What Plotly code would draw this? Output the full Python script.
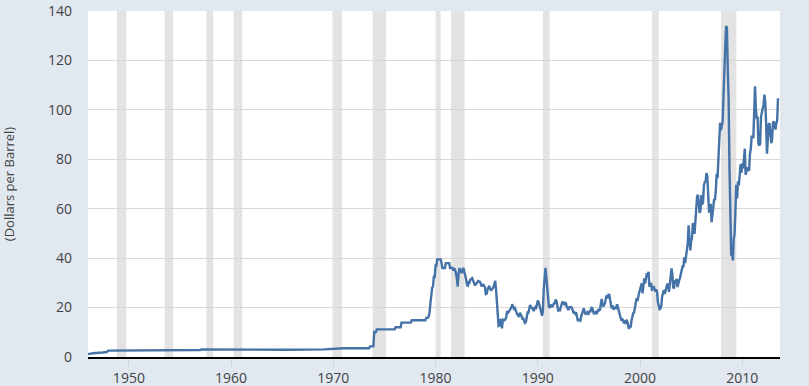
import pandas as pd
import plotly.graph_objects as go

# Early (stepwise) period: dates and prices
early_dates = ["1946-01", "1946-07", "1947-06", "1947-11", "1948-01", "1953-05", "1953-06",
               "1957-01", "1957-02", "1959-02", "1965-06", "1969-02", "1970-01", "1971-01",
               "1973-07", "1973-08", "1973-12", "1974-01", "1974-03", "1974-04", "1976-01",
               "1976-02", "1976-08", "1976-09", "1977-08", "1977-09", "1978-12"]
early_values = [1.17, 1.52, 1.82, 2.02, 2.57, 2.57, 2.82,
                2.82, 3.07, 2.97, 2.92, 3.07, 3.35, 3.56,
                3.56, 4.31, 4.31, 10.11, 10.11, 11.16, 11.16,
                12.03, 12.03, 13.90, 13.90, 14.85, 14.85]

# Monthly prices from 1979-01 to 2013-07
monthly_start = "1979-01"
monthly_values = [
    14.85, 15.85, 15.85, 15.85, 16.5, 18.1, 21.75, 25.25, 28.0, 28.5, 32.5, 32.5,  # 1979
    37.0, 37.0, 39.5, 39.5, 39.5, 39.5, 39.5, 38.0, 36.0, 36.0, 36.0, 36.0,        # 1980
    38.0, 38.0, 38.0, 38.0, 38.0, 36.0, 36.0, 36.0, 36.0, 35.0, 36.0, 35.0,        # 1981
    33.85, 31.56, 28.48, 33.45, 35.93, 35.07, 34.16, 33.95, 35.63, 35.68, 34.15, 31.72,  # 1982
    31.18, 28.95, 28.82, 30.63, 30.28, 31.35, 31.65, 31.86, 30.99, 29.85, 29.23, 29.30,  # 1983
    29.70, 30.10, 30.76, 30.60, 30.46, 29.76, 28.57, 29.30, 29.29, 28.74, 28.13, 25.50,  # 1984
    25.64, 27.30, 28.24, 28.81, 27.62, 27.13, 27.32, 27.81, 28.25, 29.54, 30.81, 27.23,  # 1985
    22.93, 15.46, 12.61, 12.84, 15.38, 13.43, 11.59, 15.10, 14.87, 14.90, 15.22, 16.11,  # 1986
    18.65, 17.75, 18.30, 18.68, 19.44, 20.07, 21.34, 20.31, 19.53, 19.86, 18.85, 17.28,  # 1987
    17.13, 16.80, 16.20, 17.86, 17.42, 16.53, 15.50, 15.52, 14.54, 13.77, 14.14, 16.38,  # 1988
    18.02, 17.94, 19.48, 21.07, 20.12, 20.05, 19.78, 18.58, 19.59, 20.10, 19.86, 21.10,  # 1989
    22.86, 22.11, 20.39, 18.43, 18.20, 16.70, 18.45, 27.31, 33.51, 36.04, 32.33, 27.28,  # 1990
    25.23, 20.48, 19.90, 20.83, 21.23, 20.19, 21.40, 21.69, 21.89, 23.23, 22.46, 19.50,  # 1991
    18.79, 19.01, 18.92, 20.23, 20.98, 22.37, 21.78, 21.34, 21.88, 21.69, 20.34, 19.41,  # 1992
    19.03, 20.09, 20.32, 20.25, 19.95, 19.09, 17.89, 18.01, 17.50, 18.15, 16.61, 14.52,  # 1993
    15.03, 14.78, 14.68, 16.42, 17.89, 19.06, 19.66, 18.38, 17.45, 17.72, 18.07, 17.16,  # 1994
    18.04, 18.57, 18.54, 19.90, 19.74, 18.45, 17.33, 18.02, 18.23, 17.43, 17.99, 19.03,  # 1995
    18.85, 19.09, 21.33, 23.50, 21.17, 20.42, 21.30, 21.90, 23.97, 24.88, 23.71, 25.23,  # 1996
    25.13, 22.18, 20.97, 19.70, 20.82, 19.26, 19.66, 19.95, 19.80, 21.33, 20.19, 18.33,  # 1997
    16.72, 16.06, 15.12, 15.35, 14.91, 13.72, 14.17, 13.47, 15.03, 14.46, 13.00, 11.35,  # 1998
    12.52, 12.01, 14.68, 17.31, 17.72, 17.92, 20.10, 21.28, 23.80, 22.69, 25.00, 26.10,  # 1999
    27.26, 29.37, 29.84, 25.72, 28.79, 31.82, 29.70, 31.26, 33.88, 33.11, 34.42, 28.44,  # 2000
    29.59, 29.61, 27.25, 27.49, 28.63, 27.60, 26.43, 27.37, 26.20, 22.17, 19.64, 19.39,  # 2001
    19.72, 20.72, 24.53, 26.18, 27.04, 25.52, 26.97, 28.39, 29.66, 28.84, 26.35, 29.46,  # 2002
    32.95, 35.83, 33.51, 28.17, 28.11, 30.66, 30.76, 31.57, 28.31, 30.34, 31.11, 32.13,  # 2003
    34.31, 34.69, 36.74, 36.75, 40.28, 38.03, 40.78, 44.90, 45.94, 53.28, 48.47, 43.15,  # 2004
    46.84, 48.15, 54.19, 52.98, 49.83, 56.35, 59.00, 64.99, 65.59, 62.26, 58.32, 59.41,  # 2005
    65.49, 61.63, 62.69, 69.44, 70.84, 70.95, 74.41, 73.04, 63.80, 58.89, 59.08, 61.96,  # 2006
    54.51, 59.28, 60.44, 63.98, 63.46, 67.49, 74.12, 72.36, 79.92, 85.80, 94.77, 91.69,  # 2007
    92.97, 95.39, 105.45, 112.58, 125.40, 133.88, 133.37, 116.67, 104.11, 76.61, 57.31, 41.12,  # 2008
    41.71, 39.09, 47.94, 49.65, 59.03, 69.64, 64.15, 71.05, 69.41, 75.72, 77.99, 74.47,  # 2009
    78.33, 76.39, 81.20, 84.29, 73.74, 75.34, 76.32, 76.60, 75.24, 81.89, 84.25, 89.15,  # 2010
    89.17, 88.58, 102.86, 109.53, 100.90, 96.26, 97.30, 86.33, 85.52, 86.32, 97.16, 98.56,  # 2011
    100.27, 102.20, 106.16, 103.32, 94.66, 82.30, 87.90, 94.13, 94.51, 89.49, 86.53, 87.86,  # 2012
    94.76, 95.31, 92.94, 92.02, 94.51, 95.77, 104.67,  # 2013
]

# Recession periods (start, end)
recessions = [("1948-11-01", "1949-10-01"), ("1953-07-01", "1954-05-01"),
              ("1957-08-01", "1958-04-01"), ("1960-04-01", "1961-02-01"),
              ("1969-12-01", "1970-11-01"), ("1973-11-01", "1975-03-01"),
              ("1980-01-01", "1980-07-01"), ("1981-07-01", "1982-11-01"),
              ("1990-07-01", "1991-03-01"), ("2001-03-01", "2001-11-01"),
              ("2007-12-01", "2009-06-01")]

monthly_dates = pd.date_range(monthly_start, periods=len(monthly_values), freq="MS")
dates = list(pd.to_datetime(early_dates)) + list(monthly_dates)
values = early_values + monthly_values

BG = "#e1e8f0"

fig = go.Figure()
fig.add_trace(go.Scatter(x=dates, y=values, mode="lines",
                         line=dict(color="#4572a7", width=2.4), hoverinfo="skip"))

for s, e in recessions:
    fig.add_shape(type="rect", xref="x", yref="paper", x0=s, x1=e, y0=0, y1=1,
                  fillcolor="#e3e3e3", line=dict(width=0), layer="below")

fig.update_layout(
    template="none",
    width=809, height=386,
    margin=dict(l=88, r=29, t=11, b=29, pad=0),
    paper_bgcolor=BG,
    plot_bgcolor="#ffffff",
    showlegend=False,
    font=dict(family="Open Sans", size=14, color="#444444"),
)
fig.update_xaxes(
    automargin=False,
    range=["1946-01-01", "2013-09-10"],
    tick0="1950-01-01", dtick="M120", tickformat="%Y",
    showgrid=False, zeroline=False,
    showline=True, linecolor="#000000", linewidth=2,
    ticks="outside", ticklen=7, tickcolor="#ccd6eb", tickwidth=1,
    tickfont=dict(size=14, color="#444444"),
)
fig.update_yaxes(
    automargin=False,
    range=[0, 140], dtick=20,
    showgrid=True, gridcolor="#d8d8d8", gridwidth=1,
    zeroline=False, showline=False,
    ticks="", ticklabelstandoff=15,
    tickfont=dict(size=14, color="#444444"),
    title=dict(text="(Dollars per Barrel)", font=dict(size=13, color="#444444"), standoff=32),
)

fig.write_html(
    "out.html",
    config={"displayModeBar": False},
    post_script="document.body.style.margin='0';document.body.style.background='%s';" % BG,
)
